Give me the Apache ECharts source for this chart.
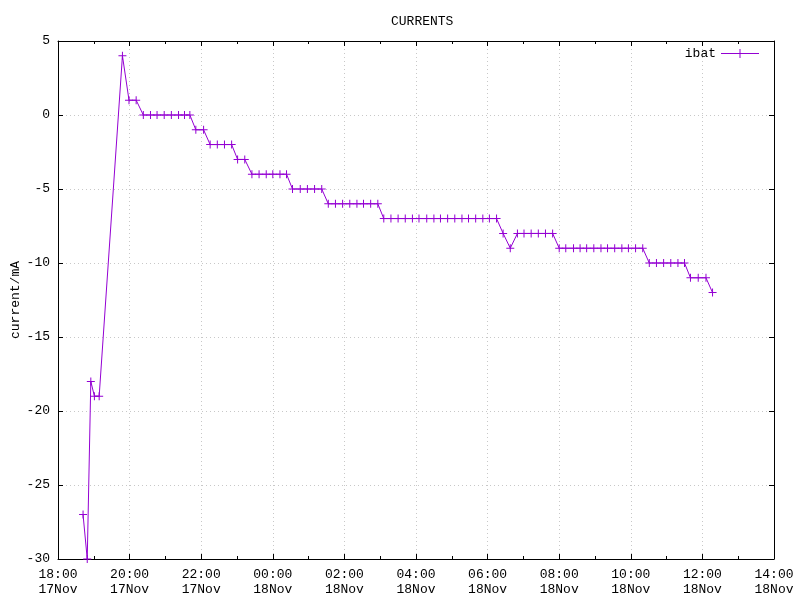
<!DOCTYPE html>
<html>
<head>
<meta charset="utf-8">
<script src="https://cdn.jsdelivr.net/npm/echarts@6/dist/echarts.min.js"></script>
<style>html,body{margin:0;padding:0;background:#fff}#c{width:800px;height:600px}</style>
</head>
<body>
<div id="c"></div>
<script>
// sample times ("day HH:MM", November) and battery current in mA
const times = [
  "17 18:42","17 18:49","17 18:55","17 19:01","17 19:09","17 19:48","17 19:59","17 20:11",
  "17 20:23","17 20:35","17 20:46","17 20:58","17 21:10","17 21:22","17 21:32","17 21:41",
  "17 21:51","17 22:04",
  "17 22:15","17 22:27","17 22:39","17 22:51",
  "17 23:01","17 23:13",
  "17 23:25","17 23:37","17 23:49","18 00:00","18 00:12","18 00:23",
  "18 00:33","18 00:46","18 00:58","18 01:10","18 01:22",
  "18 01:33","18 01:45","18 01:57","18 02:09","18 02:21","18 02:32","18 02:44","18 02:56",
  "18 03:06","18 03:18","18 03:30","18 03:42","18 03:54","18 04:05","18 04:18","18 04:30","18 04:41",
  "18 04:53","18 05:05","18 05:17","18 05:28","18 05:40","18 05:52","18 06:03","18 06:15",
  "18 06:26","18 06:38",
  "18 06:50","18 07:01","18 07:13","18 07:25","18 07:37","18 07:49",
  "18 08:00","18 08:11","18 08:24","18 08:35","18 08:46","18 08:58","18 09:10","18 09:21","18 09:33",
  "18 09:45","18 09:56","18 10:08","18 10:20",
  "18 10:31","18 10:43","18 10:55","18 11:07","18 11:19","18 11:30",
  "18 11:40","18 11:53","18 12:06",
  "18 12:17"
];
const ibat = [
  -27,-30,-18,-19,-19,4,1,1,
  0,0,0,0,0,0,0,0,
  -1,-1,
  -2,-2,-2,-2,
  -3,-3,
  -4,-4,-4,-4,-4,-4,
  -5,-5,-5,-5,-5,
  -6,-6,-6,-6,-6,-6,-6,-6,
  -7,-7,-7,-7,-7,-7,-7,-7,-7,
  -7,-7,-7,-7,-7,-7,-7,-7,
  -8,-9,
  -8,-8,-8,-8,-8,-8,
  -9,-9,-9,-9,-9,-9,-9,-9,-9,
  -9,-9,-9,-9,
  -10,-10,-10,-10,-10,-10,
  -11,-11,-11,
  -12
];
const seriesName = "ibat";
const titleText = "CURRENTS";
const yAxisName = "current/mA";
// x axis in hours since 17 Nov 00:00; ticks 18:00 17Nov .. 14:00 18Nov
const xMin = 18, xMax = 38, xStep = 2;
const yMin = -30, yMax = 5, yStep = 5;

function toHours(s) {
  const [d, hm] = s.split(" ");
  const [h, m] = hm.split(":").map(Number);
  return (Number(d) - 17) * 24 + h + m / 60;
}
const data = times.map((t, i) => [toHours(t), ibat[i]]);

const font = "Liberation Mono, DejaVu Sans Mono, monospace";
const col = "#9400d3";
const pad = n => (n < 10 ? "0" : "") + n;

const chart = echarts.init(document.getElementById("c"), null, {renderer: "canvas"});
const grid = {left: 58, right: 26, top: 41, bottom: 41, containLabel: false, outerBoundsMode: "none"};
const split = {show: true, lineStyle: {color: "#c8c8c8", width: 1, type: [1, 3]}};
chart.setOption({
  animation: false,
  backgroundColor: "#fff",
  title: {text: titleText, left: 386, top: 10,
    textStyle: {fontFamily: font, fontSize: 13, fontWeight: "normal", color: "#000"}},
  legend: {
    right: 36, top: 42, itemWidth: 38, itemHeight: 9, align: "right",
    data: [{name: seriesName,
      icon: "path://M0,4L38,4L38,5L0,5Z M18.5,0L19.5,0L19.5,9L18.5,9Z"}],
    textStyle: {fontFamily: font, fontSize: 13, color: "#000"}
  },
  grid: grid,
  xAxis: [{
    type: "value", min: xMin, max: xMax, interval: xStep, position: "bottom",
    axisLine: {show: true, onZero: false, lineStyle: {color: "#000", width: 1}},
    axisTick: {show: true, inside: true, length: 5, lineStyle: {color: "#000"}},
    minorTick: {show: true, splitNumber: 2, length: 3, lineStyle: {color: "#000"}},
    axisLabel: {fontFamily: font, fontSize: 13, color: "#000", margin: 8, lineHeight: 15,
      formatter: v => pad(Math.round(v) % 24) + ":00\n" + (v >= 24 ? 18 : 17) + "Nov"},
    splitLine: split
  }, {
    type: "value", min: xMin, max: xMax, interval: xStep, position: "top",
    axisLine: {show: true, onZero: false, lineStyle: {color: "#000", width: 1}},
    axisTick: {show: true, inside: true, length: 5, lineStyle: {color: "#000"}},
    minorTick: {show: true, splitNumber: 2, length: 3, lineStyle: {color: "#000"}},
    axisLabel: {show: false}, splitLine: {show: false}
  }],
  yAxis: [{
    type: "value", min: yMin, max: yMax, interval: yStep, position: "left",
    name: yAxisName, nameLocation: "middle", nameGap: 36, nameRotate: 90,
    nameMoveOverlap: false,
    nameTextStyle: {fontFamily: font, fontSize: 13, color: "#000"},
    axisLine: {show: true, onZero: false, lineStyle: {color: "#000", width: 1}},
    axisTick: {show: true, inside: true, length: 5, lineStyle: {color: "#000"}},
    axisLabel: {fontFamily: font, fontSize: 13, color: "#000", margin: 8},
    splitLine: split
  }, {
    type: "value", min: yMin, max: yMax, interval: yStep, position: "right",
    axisLine: {show: true, onZero: false, lineStyle: {color: "#000", width: 1}},
    axisTick: {show: true, inside: true, length: 5, lineStyle: {color: "#000"}},
    axisLabel: {show: false}, splitLine: {show: false}
  }],
  series: [{
    name: seriesName, type: "line", xAxisIndex: 0, yAxisIndex: 0,
    data: data, clip: true, showSymbol: true, showAllSymbol: true,
    symbol: "path://M0,3.5L8,3.5L8,4.5L0,4.5Z M3.5,0L4.5,0L4.5,8L3.5,8Z",
    symbolSize: 8,
    itemStyle: {color: col, borderWidth: 0},
    lineStyle: {color: col, width: 1},
    emphasis: {disabled: true}
  }]
});
</script>
</body>
</html>
